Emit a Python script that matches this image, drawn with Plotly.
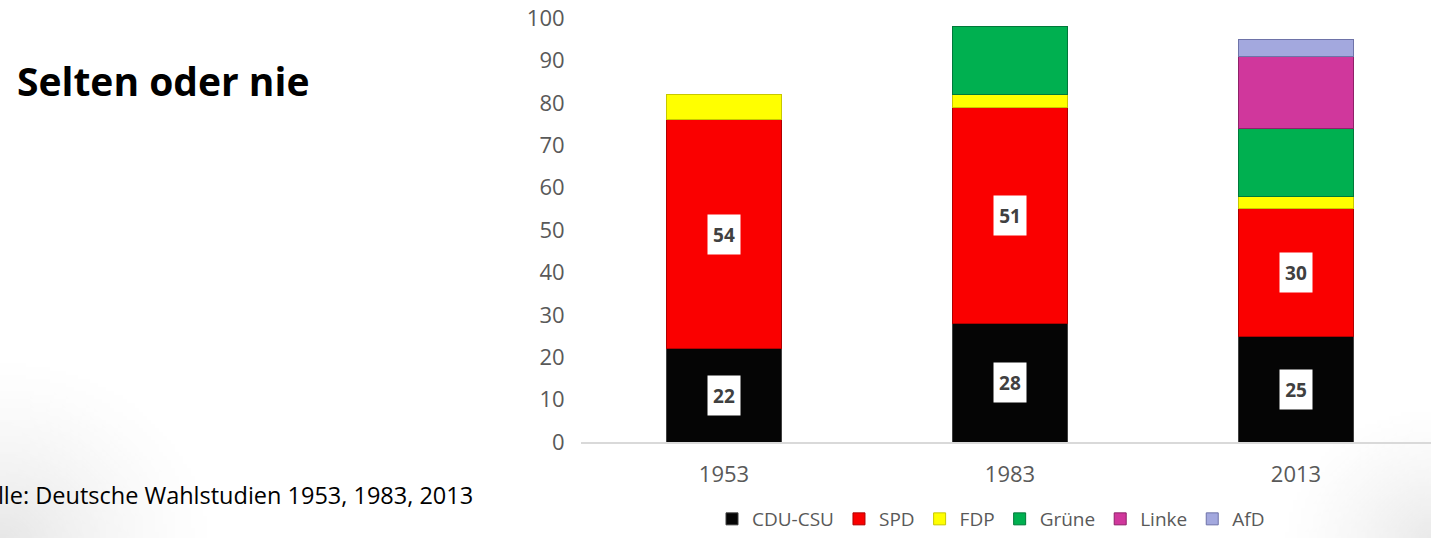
import base64
import struct
import zlib

import numpy as np
import plotly.graph_objects as go

years = ["1953", "1983", "2013"]
parties = ["CDU-CSU", "SPD", "FDP", "Grüne", "Linke", "AfD"]
cdu = [22, 28, 25]
spd = [54, 51, 30]
fdp = [6, 3, 3]
gruene = [None, 16, 16]
linke = [None, None, 17]
afd = [None, None, 4]
series = [cdu, spd, fdp, gruene, linke, afd]
labelled = ["CDU-CSU", "SPD"]

colors = ["#050505", "#FA0000", "#FFFF00", "#00B050", "#D0379C", "#A3A8DE"]
edges = ["#404040", "#B00000", "#C8C800", "#00783A", "#8E2168", "#6E73A8"]

FONT = "Open Sans, Calibri, sans-serif"
W, H = 1431, 538
L, R, T, B = 581, 0, 18, 96
pw, ph = W - L - R, H - T - B


def px(xp):
    return (xp - L) / pw


def py(yp):
    return (H - B - yp) / ph


def slide_background():
    # soft grey shading in the lower corners of the slide
    s = 4
    gw, gh = W // s, H // s
    yy, xx = np.mgrid[0:gh, 0:gw].astype(float) * s
    d1 = np.sqrt((xx / 230.0) ** 2 + ((H - yy) / 200.0) ** 2)
    d2 = np.sqrt(((W - xx) / 170.0) ** 2 + ((H - yy) / 150.0) ** 2)
    a = 0.24 * np.clip(1 - d1, 0, 1) ** 1.5 + 0.22 * np.clip(1 - d2, 0, 1) ** 1.5
    a = np.clip(a, 0, 1)
    img = np.zeros((gh, gw, 4), dtype=np.uint8)
    img[..., 0:3] = 150
    img[..., 3] = (a * 255).astype(np.uint8)
    raw = b"".join(b"\x00" + row.tobytes() for row in img)

    def chunk(tag, data):
        c = struct.pack(">I", len(data)) + tag + data
        return c + struct.pack(">I", zlib.crc32(tag + data) & 0xFFFFFFFF)

    png = b"\x89PNG\r\n\x1a\n"
    png += chunk(b"IHDR", struct.pack(">IIBBBBB", gw, gh, 8, 6, 0, 0, 0))
    png += chunk(b"IDAT", zlib.compress(raw, 9))
    png += chunk(b"IEND", b"")
    return "data:image/png;base64," + base64.b64encode(png).decode()


fig = go.Figure()
for name, vals, c, e in zip(parties, series, colors, edges):
    fig.add_trace(go.Bar(
        x=years, y=vals, name=name,
        marker=dict(color=c, line=dict(color=e, width=1)),
    ))

annotations = []
for i, yr in enumerate(years):
    base = 0
    for name, vals in zip(parties, series):
        v = vals[i]
        if v is None:
            continue
        if name in labelled:
            annotations.append(dict(
                x=i, y=base + v / 2, xref="x", yref="y", text=f"<b>{v}</b>",
                showarrow=False, bgcolor="white", width=30, height=37,
                font=dict(family=FONT, size=19, color="#404040"),
            ))
        base += v

annotations.append(dict(
    x=px(15), y=py(80), xref="paper", yref="paper", xanchor="left", yanchor="middle",
    text="<b>Selten oder nie</b>", showarrow=False,
    font=dict(family=FONT, size=39, color="#000000"),
))
annotations.append(dict(
    x=px(475), y=py(495), xref="paper", yref="paper", xanchor="right", yanchor="middle",
    text="Quelle: Deutsche Wahlstudien 1953, 1983, 2013", showarrow=False,
    font=dict(family=FONT, size=23.5, color="#000000"),
))

fig.update_layout(
    width=W, height=H,
    margin=dict(l=L, r=R, t=T, b=B, pad=0, autoexpand=False),
    barmode="stack", bargap=0.6,
    plot_bgcolor="rgba(0,0,0,0)", paper_bgcolor="white",
    font=dict(family=FONT, size=20, color="#595959"),
    showlegend=True,
    legend=dict(orientation="h", x=px(991), xanchor="center", y=py(538), yanchor="bottom",
                font=dict(family=FONT, size=19, color="#595959"), traceorder="normal",
                bgcolor="rgba(0,0,0,0)", itemwidth=30),
    annotations=annotations,
    images=[dict(source=slide_background(), xref="paper", yref="paper",
                 x=px(0), y=py(0), sizex=W / pw, sizey=H / ph,
                 xanchor="left", yanchor="top", sizing="stretch", layer="below")],
    xaxis=dict(type="category", range=[-0.5, 2.472], showgrid=False, showline=True,
               linecolor="#D9D9D9", linewidth=1.5, ticks="outside", ticklen=12,
               tickcolor="rgba(0,0,0,0)", automargin=False,
               tickfont=dict(family=FONT, size=22, color="#595959"), zeroline=False),
    yaxis=dict(range=[0, 100], dtick=10, showgrid=False, showline=False, zeroline=False,
               ticks="outside", ticklen=11, tickcolor="rgba(0,0,0,0)", automargin=False,
               tickfont=dict(family=FONT, size=22, color="#595959")),
)

fig.write_html("out.html", config={"displayModeBar": False},
               post_script="document.body.style.margin='0';document.body.style.overflow='hidden';")
